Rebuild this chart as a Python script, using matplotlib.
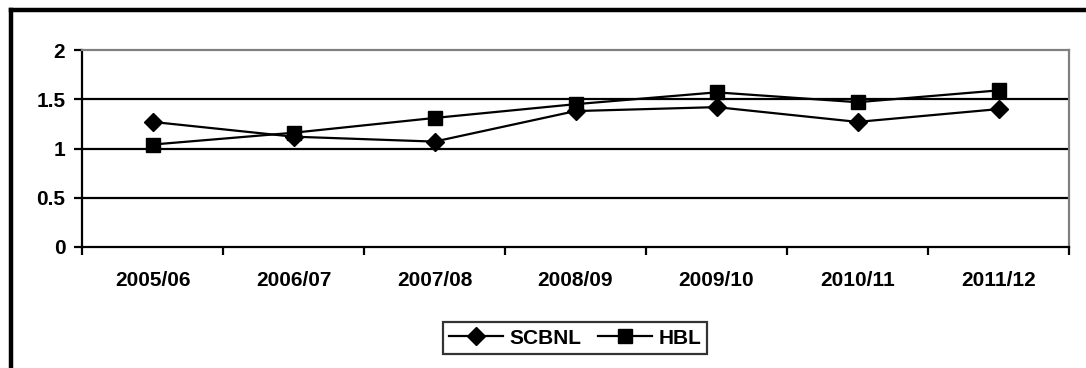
import matplotlib
matplotlib.use("Agg")
import matplotlib.pyplot as plt
from matplotlib.lines import Line2D

plt.rcParams['font.family'] = ['Liberation Sans', 'DejaVu Sans']
plt.rcParams['font.weight'] = 'bold'

years = ["2005/06", "2006/07", "2007/08", "2008/09", "2009/10", "2010/11", "2011/12"]
scbnl = [1.27, 1.12, 1.07, 1.38, 1.42, 1.27, 1.40]
hbl = [1.04, 1.16, 1.31, 1.45, 1.57, 1.47, 1.59]
y_ticks = [0, 0.5, 1, 1.5, 2]
y_tick_labels = ["0", "0.5", "1", "1.5", "2"]

W, H = 1086, 368
FS = 15
fig = plt.figure(figsize=(W / 100, H / 100), dpi=100)
ax = fig.add_axes([82 / W, 1 - 247 / H, (1069 - 82) / W, (247 - 50) / H])

x = list(range(len(years)))
ax.set_xlim(-0.5, len(years) - 0.5)
ax.set_ylim(0, 2)

# horizontal gridlines
for v in y_ticks[1:-1]:
    ax.axhline(v, color='black', lw=1.6, zorder=1)

ax.plot(x, scbnl, color='black', lw=1.6, marker='D', markersize=9.5,
        label='SCBNL', zorder=3)
ax.plot(x, hbl, color='black', lw=1.6, marker='s', markersize=10.5,
        label='HBL', zorder=3)

# spines
for side in ('top', 'right'):
    ax.spines[side].set_color('#808080')
    ax.spines[side].set_linewidth(1.6)
for side in ('left', 'bottom'):
    ax.spines[side].set_color('black')
    ax.spines[side].set_linewidth(1.6)

ax.set_yticks(y_ticks)
ax.set_yticklabels(y_tick_labels, fontsize=FS, fontweight='bold')
ax.set_xticks([i - 0.5 for i in range(len(years) + 1)])
ax.set_xticklabels([])
ax.set_xticks(x, minor=True)
ax.set_xticklabels(years, minor=True, fontsize=FS, fontweight='bold')
ax.tick_params(axis='x', which='major', length=6, width=1.6, direction='out')
ax.tick_params(axis='x', which='minor', length=0, pad=17)
ax.tick_params(axis='y', length=6, width=1.6, direction='out', pad=6)

handles = [
    Line2D([], [], color='black', lw=1.6, marker='D', markersize=9.5),
    Line2D([], [], color='black', lw=1.6, marker='s', markersize=10.5),
]
leg = fig.legend(handles, ['SCBNL', 'HBL'], loc='center',
                 bbox_to_anchor=(575 / W, 1 - 338 / H), ncol=2,
                 frameon=True, fancybox=False, prop={'size': FS, 'weight': 'bold'},
                 handlelength=2.6, handletextpad=0.3, columnspacing=0.8,
                 borderpad=0.3, borderaxespad=0)
leg.get_frame().set_edgecolor('black')
leg.get_frame().set_linewidth(1.6)

# outer chart border (top and left edges)
fig.add_artist(Line2D([11 / W, 11 / W], [0, 1 - 9.5 / H], color='black', lw=3.2,
                      transform=fig.transFigure))
fig.add_artist(Line2D([11 / W, 1], [1 - 9.5 / H, 1 - 9.5 / H], color='black', lw=3.2,
                      transform=fig.transFigure, solid_capstyle='projecting'))

fig.savefig('out.png', dpi=100)
